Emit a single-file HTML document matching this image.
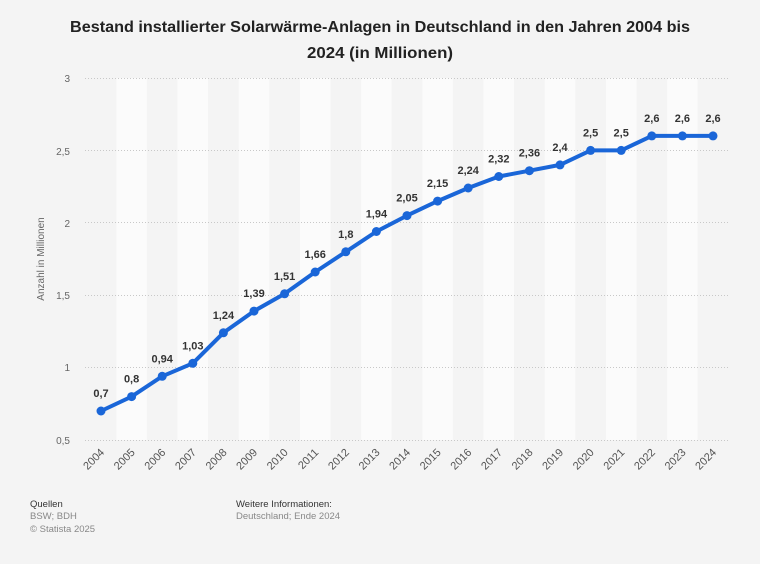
<!DOCTYPE html>
<html><head><meta charset="utf-8"><style>
html,body{margin:0;padding:0;background:#f5f5f5;}
svg{display:block;font-family:"Liberation Sans",Arial,sans-serif;}
</style></head><body>
<svg width="760" height="564" viewBox="0 0 760 564" xmlns="http://www.w3.org/2000/svg">
<rect width="760" height="564" fill="#f4f4f4"/>
<text x="380" y="32" text-anchor="middle" font-size="16" font-weight="bold" fill="#222" textLength="620" lengthAdjust="spacingAndGlyphs">Bestand installierter Solarwärme-Anlagen in Deutschland in den Jahren 2004 bis</text>
<text x="380" y="58" text-anchor="middle" font-size="16" font-weight="bold" fill="#222" textLength="146" lengthAdjust="spacingAndGlyphs">2024 (in Millionen)</text>
<g fill="#fbfbfb">
<rect x="116.3" y="78" width="30.6" height="362"/>
<rect x="177.5" y="78" width="30.6" height="362"/>
<rect x="238.7" y="78" width="30.6" height="362"/>
<rect x="299.9" y="78" width="30.6" height="362"/>
<rect x="361.1" y="78" width="30.6" height="362"/>
<rect x="422.3" y="78" width="30.6" height="362"/>
<rect x="483.5" y="78" width="30.6" height="362"/>
<rect x="544.7" y="78" width="30.6" height="362"/>
<rect x="605.9" y="78" width="30.6" height="362"/>
<rect x="667.1" y="78" width="30.6" height="362"/>
</g>
<g stroke="#c8c8c8" stroke-width="1" stroke-dasharray="1,2">
<line x1="85" x2="729" y1="78.5" y2="78.5"/>
<line x1="85" x2="729" y1="150.5" y2="150.5"/>
<line x1="85" x2="729" y1="222.5" y2="222.5"/>
<line x1="85" x2="729" y1="295.5" y2="295.5"/>
<line x1="85" x2="729" y1="367.5" y2="367.5"/>
<line x1="85" x2="729" y1="440.5" y2="440.5"/>
</g>
<g font-size="10" fill="#666" text-anchor="end">
<text x="70" y="82">3</text>
<text x="70" y="155">2,5</text>
<text x="70" y="227">2</text>
<text x="70" y="299">1,5</text>
<text x="70" y="371">1</text>
<text x="70" y="444">0,5</text>
</g>
<text transform="translate(44,259) rotate(-90)" text-anchor="middle" font-size="10" fill="#666">Anzahl in Millionen</text>
<polyline fill="none" stroke="#1a66d8" stroke-width="4" stroke-linejoin="round" points="101,411 131.6,396.6 162.2,376.3 192.8,363.3 223.4,332.8 254,311.1 284.6,293.8 315.2,272 345.8,251.8 376.4,231.5 407,215.6 437.6,201.1 468.2,188 498.8,176.5 529.4,170.7 560,164.9 590.6,150.4 621.2,150.4 651.8,135.9 682.4,135.9 713,135.9"/>
<g fill="#1a66d8">
<circle cx="101" cy="411" r="4.5"/><circle cx="131.6" cy="396.6" r="4.5"/><circle cx="162.2" cy="376.3" r="4.5"/><circle cx="192.8" cy="363.3" r="4.5"/><circle cx="223.4" cy="332.8" r="4.5"/><circle cx="254" cy="311.1" r="4.5"/><circle cx="284.6" cy="293.8" r="4.5"/><circle cx="315.2" cy="272" r="4.5"/><circle cx="345.8" cy="251.8" r="4.5"/><circle cx="376.4" cy="231.5" r="4.5"/><circle cx="407" cy="215.6" r="4.5"/><circle cx="437.6" cy="201.1" r="4.5"/><circle cx="468.2" cy="188" r="4.5"/><circle cx="498.8" cy="176.5" r="4.5"/><circle cx="529.4" cy="170.7" r="4.5"/><circle cx="560" cy="164.9" r="4.5"/><circle cx="590.6" cy="150.4" r="4.5"/><circle cx="621.2" cy="150.4" r="4.5"/><circle cx="651.8" cy="135.9" r="4.5"/><circle cx="682.4" cy="135.9" r="4.5"/><circle cx="713" cy="135.9" r="4.5"/>
</g>
<g font-size="11" font-weight="bold" fill="#333" text-anchor="middle">
<text x="101" y="397">0,7</text><text x="131.6" y="382.6">0,8</text><text x="162.2" y="362.3">0,94</text><text x="192.8" y="349.3">1,03</text><text x="223.4" y="318.8">1,24</text><text x="254" y="297.1">1,39</text><text x="284.6" y="279.8">1,51</text><text x="315.2" y="258">1,66</text><text x="345.8" y="237.8">1,8</text><text x="376.4" y="217.5">1,94</text><text x="407" y="201.6">2,05</text><text x="437.6" y="187.1">2,15</text><text x="468.2" y="174">2,24</text><text x="498.8" y="162.5">2,32</text><text x="529.4" y="156.7">2,36</text><text x="560" y="150.9">2,4</text><text x="590.6" y="136.4">2,5</text><text x="621.2" y="136.4">2,5</text><text x="651.8" y="121.9">2,6</text><text x="682.4" y="121.9">2,6</text><text x="713" y="121.9">2,6</text>
</g>
<g font-size="11" fill="#555" text-anchor="end">
<text transform="translate(105,453) rotate(-45)">2004</text>
<text transform="translate(135.6,453) rotate(-45)">2005</text>
<text transform="translate(166.2,453) rotate(-45)">2006</text>
<text transform="translate(196.8,453) rotate(-45)">2007</text>
<text transform="translate(227.4,453) rotate(-45)">2008</text>
<text transform="translate(258,453) rotate(-45)">2009</text>
<text transform="translate(288.6,453) rotate(-45)">2010</text>
<text transform="translate(319.2,453) rotate(-45)">2011</text>
<text transform="translate(349.8,453) rotate(-45)">2012</text>
<text transform="translate(380.4,453) rotate(-45)">2013</text>
<text transform="translate(411,453) rotate(-45)">2014</text>
<text transform="translate(441.6,453) rotate(-45)">2015</text>
<text transform="translate(472.2,453) rotate(-45)">2016</text>
<text transform="translate(502.8,453) rotate(-45)">2017</text>
<text transform="translate(533.4,453) rotate(-45)">2018</text>
<text transform="translate(564,453) rotate(-45)">2019</text>
<text transform="translate(594.6,453) rotate(-45)">2020</text>
<text transform="translate(625.2,453) rotate(-45)">2021</text>
<text transform="translate(655.8,453) rotate(-45)">2022</text>
<text transform="translate(686.4,453) rotate(-45)">2023</text>
<text transform="translate(717,453) rotate(-45)">2024</text>
</g>
<g font-size="9.5">
<text x="30" y="507" fill="#333">Quellen</text>
<text x="30" y="519" fill="#888">BSW; BDH</text>
<text x="30" y="532" fill="#888">© Statista 2025</text>
<text x="236" y="507" fill="#333">Weitere Informationen:</text>
<text x="236" y="519" fill="#888">Deutschland; Ende 2024</text>
</g>
</svg>
</body></html>
